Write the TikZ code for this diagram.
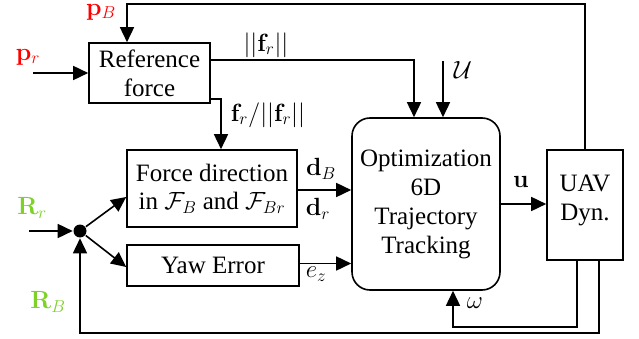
\documentclass[tikz,border=0pt]{standalone}
\usepackage[no-math]{fontspec}
\setmainfont{Liberation Serif}
\usetikzlibrary{arrows.meta,calc}
\definecolor{lgreen}{RGB}{125,210,40}
\begin{document}
\begin{tikzpicture}[x=1pt,y=-1pt,
  font=\fontsize{25}{29}\selectfont,
  line width=1.6pt,
  arr/.style={-{Triangle[length=15pt,width=14pt]}},
  blk/.style={draw,inner sep=0pt,align=center},
  lbl/.style={inner sep=0pt}]
\useasboundingbox (0,0) rectangle (639,339);
% blocks
\node[blk,minimum width=121pt,minimum height=60pt] (ref) at (149.5,73) {Reference\\force};
\node[blk,minimum width=170pt,minimum height=77pt,font=\fontsize{25}{28}\selectfont] (fd) at (212,188.5) {Force direction\\in $\mathcal{F}_B$ and $\mathcal{F}_{Br}$};
\node[blk,minimum width=172pt,minimum height=41pt] (yaw) at (213,265.5) {Yaw Error};
\node[blk,rounded corners=18pt,minimum width=148pt,minimum height=172pt] (opt) at (426,204) {Optimization\\6D\\Trajectory\\Tracking};
\node[blk,minimum width=76pt,minimum height=110pt] (uav) at (585,205) {};
\node[lbl,align=center] (uavt) at (585,200) {UAV\\Dyn.};
\node[circle,fill,inner sep=0pt,minimum size=13pt] (dot) at (80,231) {};
% free ends
\coordinate (prs) at (33,73);
\coordinate (rrs) at (29,231);
\coordinate (pbtop) at (127,4);
\coordinate (rbb) at (80,333);
\coordinate (dbs) at ($(fd.east)+(0,1.5)$);
\coordinate (ezs) at ($(yaw.east)+(0,-2)$);
% connectors
\draw[arr] (prs) -- (ref.west);
\draw[arr] (uav.north) |- (pbtop) -- (pbtop |- ref.north);
\draw[arr] ($(ref.east)+(0,-13)$) -| ($(opt.north)+(-12,0)$);
\draw[arr] ($(opt.north)+(17,-56)$) -- ($(opt.north)+(17,0)$);
\draw[arr] ($(ref.east)+(0,26)$) -| ($(fd.north)+(9,0)$);
\draw[arr] (dbs) -- (dbs -| opt.west);
\draw[arr] (ezs) -- (ezs -| opt.west);
\draw[arr] (opt.east) -- (opt.east -| uav.west);
\draw[arr] ($(uav.south)+(-8,0)$) |- ($(opt.south)+(27,36)$) -- ($(opt.south)+(27,0)$);
\draw[arr] ($(uav.south)+(14,0)$) |- (rbb) -- (dot);
\draw[arr] (rrs) -- (dot);
\draw[arr] (dot) -- ($(fd.west)+(0,8.5)$);
\draw[arr] (dot) -- ($(yaw.west)+(0,1.5)$);
% labels
\node[lbl,text=red] (lpb) at (101,12) {$\mathbf{p}_B$};
\node[lbl,text=red] (lpr) at (28,57) {$\mathbf{p}_r$};
\node[lbl] (lfn) at (266,45) {$||\mathbf{f}_r||$};
\node[lbl] (lfd) at (268,115) {$\mathbf{f}_r/||\mathbf{f}_r||$};
\node[lbl] (lu) at (463,70) {$\mathcal{U}$};
\node[lbl] (ldb) at (321,169) {$\mathbf{d}_B$};
\node[lbl] (ldr) at (318,209) {$\mathbf{d}_r$};
\node[lbl] (lez) at (316,274) {$e_z$};
\node[lbl] (lu2) at (521,182) {$\mathbf{u}$};
\node[lbl] (lw) at (475,303) {$\omega$};
\node[lbl,text=lgreen] (lrr) at (32,208) {$\mathbf{R}_r$};
\node[lbl,text=lgreen] (lrb) at (48,302) {$\mathbf{R}_B$};
\end{tikzpicture}
\end{document}
